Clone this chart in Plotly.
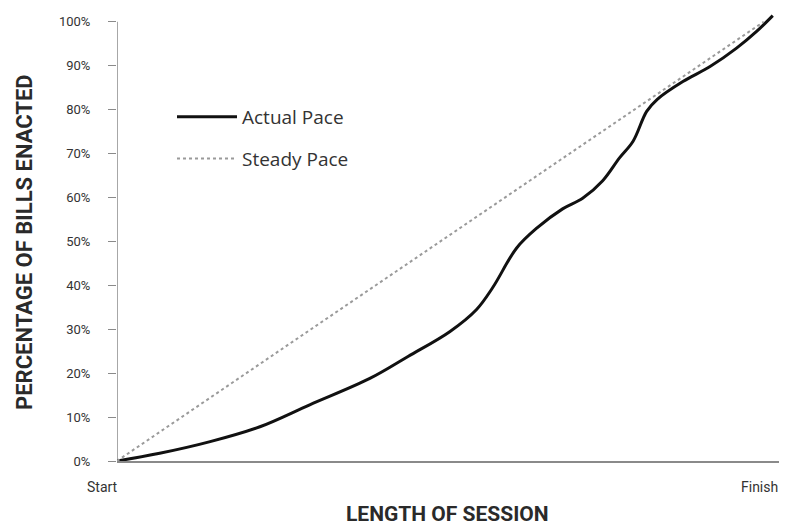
import plotly.graph_objects as go

# Data (session progress 0=Start, 100=Finish; percent of bills enacted)
actual_x = [0, 6.6, 14.4, 22.1, 29.8, 39.1, 45.0, 51.5, 55.6, 58.1, 61.8, 64.9, 68.9, 72.0,
            75.1, 77.7, 79.8, 81.9, 83.5, 87.5, 91.7, 95.8, 98.9, 101.4]
actual_y = [0, 1.75, 4.4, 7.8, 12.8, 18.8, 23.8, 29.5, 34.5, 39.5, 48.5, 53.0, 57.4, 59.8,
            63.8, 69.0, 72.8, 79.6, 82.3, 86.4, 89.8, 94.0, 97.8, 101.4]
steady_x = [0, 100]
steady_y = [0, 100]
y_tickvals = [0, 10, 20, 30, 40, 50, 60, 70, 80, 90, 100]
y_ticktext = [f"{v}%" for v in y_tickvals]
x_tickvals = [0, 100]
x_ticktext = ["Start", "Finish"]

FONT = "Roboto, sans-serif"
AXIS_GRAY = "#8a8a8a"
TXT = "#333333"

# plot area in screenshot pixels (page has an 8px body margin)
PL, PR, PT, PB = 117, 787, 13, 461
def px(xp):
    return (xp - PL) / (PR - PL)
def py(yp):
    return (PB - yp) / (PB - PT)

fig = go.Figure()
fig.add_trace(go.Scatter(
    x=actual_x, y=actual_y, mode="lines", name="Actual Pace",
    line=dict(color="#111111", width=3, shape="spline", smoothing=1.0),
    legendgroup="a",
))
fig.add_trace(go.Scatter(
    x=steady_x, y=steady_y, mode="lines", name="Steady Pace",
    line=dict(color="#9a9a9a", width=2, dash="dot"),
    legendgroup="b",
))

# y axis line from 0% to 100%
fig.add_shape(type="line", xref="x", yref="y", x0=0, x1=0, y0=-1.5, y1=100,
              line=dict(color=AXIS_GRAY, width=1.5), layer="below")

annotations = [
    dict(text="<b>LENGTH OF SESSION</b>", xref="paper", yref="paper",
         x=px(447), y=py(514), xanchor="center", yanchor="middle",
         showarrow=False, font=dict(family=FONT, size=21, color="#2a2a2a")),
    dict(text="<b>PERCENTAGE OF BILLS ENACTED</b>", xref="paper", yref="paper",
         x=px(24), y=py(242), xanchor="center", yanchor="middle",
         textangle=-90, showarrow=False,
         font=dict(family=FONT, size=22, color="#2a2a2a")),
    dict(text=x_ticktext[0], xref="x", yref="paper", x=x_tickvals[0],
         y=py(487), xanchor="right", yanchor="middle", showarrow=False, xshift=3,
         font=dict(family=FONT, size=14, color=TXT)),
    dict(text=x_ticktext[1], xref="x", yref="paper", x=x_tickvals[1],
         y=py(487), xanchor="center", yanchor="middle", showarrow=False, xshift=-4,
         font=dict(family=FONT, size=14, color=TXT)),
]

fig.update_layout(
    width=779, height=521,
    margin=dict(l=109, r=0, t=5, b=68),
    paper_bgcolor="white", plot_bgcolor="white",
    showlegend=True,
    legend=dict(
        x=px(172), y=py(98), xanchor="left", yanchor="top",
        font=dict(family="Open Sans, sans-serif", size=19, color=TXT),
        bgcolor="rgba(0,0,0,0)", traceorder="grouped", tracegroupgap=14,
        itemwidth=60,
    ),
    xaxis=dict(
        range=[0, 103.6], showgrid=False, zeroline=False,
        showline=True, linecolor=AXIS_GRAY, linewidth=1.5,
        tickvals=x_tickvals, ticktext=["", ""], ticks="",
    ),
    yaxis=dict(
        range=[0, 102], showgrid=False, zeroline=False, showline=False,
        tickvals=y_tickvals, ticktext=y_ticktext,
        ticks="outside", ticklen=8, tickcolor=AXIS_GRAY, tickwidth=1.2,
        ticklabelstandoff=15,
        tickfont=dict(family=FONT, size=13, color=TXT),
    ),
    annotations=annotations,
)

fig.write_html("out.html")
